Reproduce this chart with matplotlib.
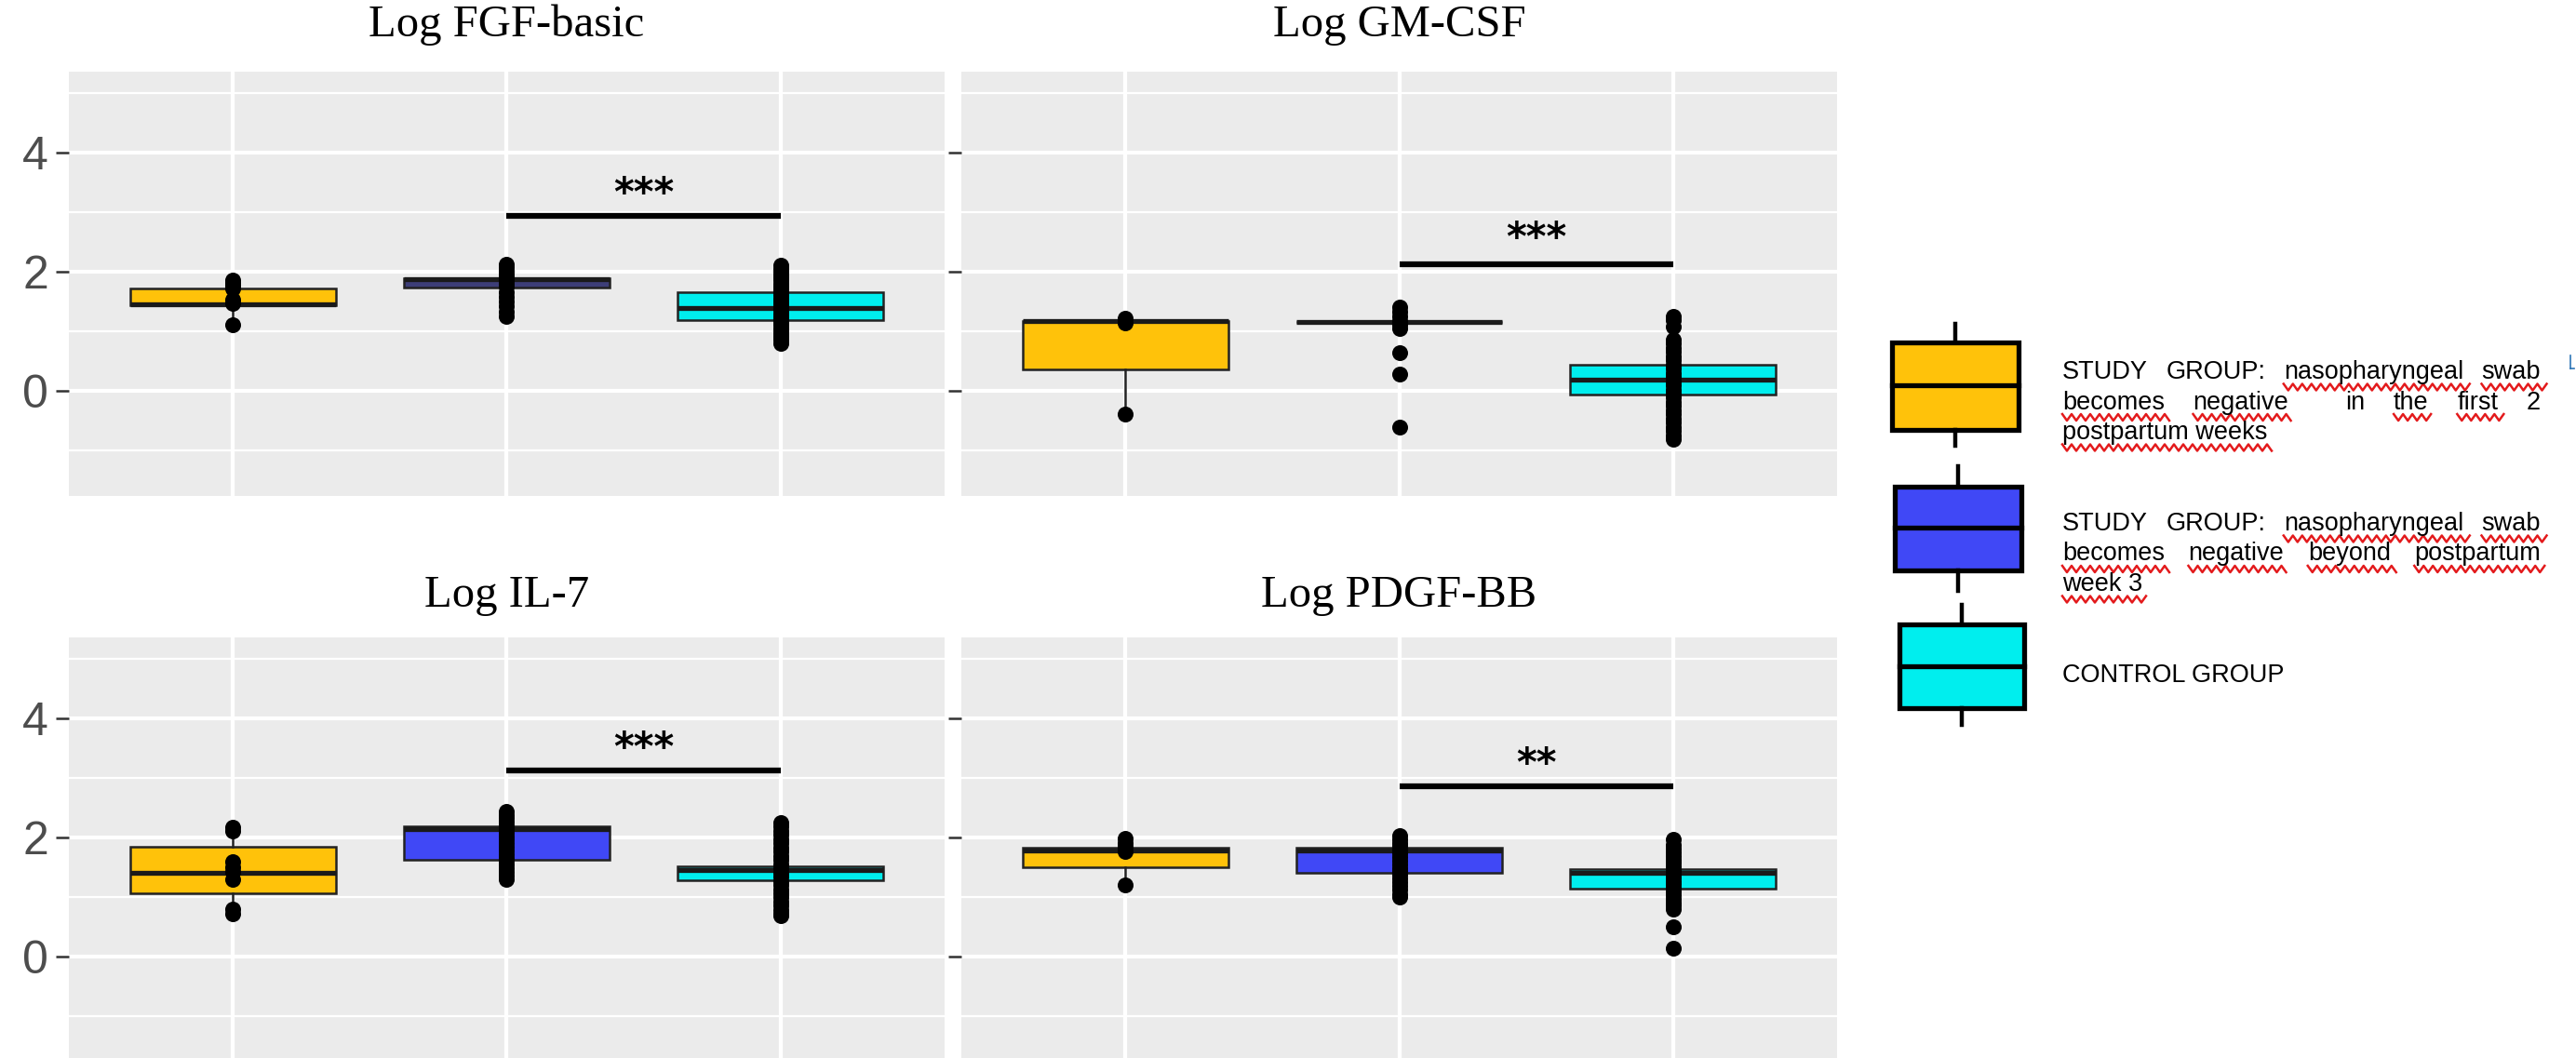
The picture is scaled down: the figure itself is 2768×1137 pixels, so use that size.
import matplotlib
matplotlib.use("Agg")
import numpy as np
import matplotlib.pyplot as plt
from matplotlib.patches import Rectangle

panel_titles = ["Log FGF-basic", "Log GM-CSF", "Log IL-7", "Log PDGF-BB"]
group_colors = ["#FFC20A", "#4048F6", "#00EEEE"]

# box stats per group: (q1, median, q3, whisker low, whisker high)
fgf_boxes = [(1.43, 1.45, 1.71, 1.11, 1.86), (1.74, 1.87, 1.89, 1.50, 2.12), (1.19, 1.39, 1.66, 0.80, 2.10)]
gm_boxes = [(0.36, 1.17, 1.17, -0.39, 1.17), (1.15, 1.15, 1.15, 1.15, 1.15), (-0.06, 0.19, 0.44, -0.82, 1.22)]
il7_boxes = [(1.06, 1.41, 1.84, 0.71, 2.17), (1.63, 2.14, 2.19, 1.29, 2.44), (1.28, 1.45, 1.52, 0.68, 2.25)]
pdgf_boxes = [(1.50, 1.78, 1.82, 1.20, 1.98), (1.41, 1.78, 1.82, 0.99, 2.03), (1.14, 1.40, 1.47, 0.80, 1.97)]

# individual observations drawn on each box
fgf_points = [
    [1.86, 1.81, 1.76, 1.71, 1.53, 1.47, 1.11],
    [2.12, 2.07, 2.02, 1.97, 1.93, 1.89, 1.86, 1.83, 1.79, 1.75, 1.66, 1.58, 1.50, 1.42, 1.33, 1.24],
    [2.10, 2.05, 2.00, 1.95, 1.90, 1.85, 1.80, 1.75, 1.70, 1.65, 1.60, 1.55, 1.50, 1.45, 1.40, 1.35,
     1.30, 1.25, 1.20, 1.15, 1.10, 1.05, 1.00, 0.95, 0.90, 0.85, 0.80],
]
gm_points = [
    [1.22, 1.14, -0.39],
    [1.40, 1.32, 1.24, 1.17, 1.10, 1.05, 0.64, 0.28, -0.61],
    [1.25, 1.18, 1.08, 0.86, 0.79, 0.72, 0.65, 0.58, 0.51, 0.44, 0.37, 0.30, 0.23, 0.16, 0.09, 0.02,
     -0.05, -0.12, -0.19, -0.26, -0.33, -0.40, -0.47, -0.54, -0.61, -0.68, -0.75, -0.82],
]
il7_points = [
    [2.17, 2.10, 1.59, 1.50, 1.42, 1.30, 0.79, 0.71],
    [2.44, 2.38, 2.32, 2.26, 2.20, 2.14, 2.08, 2.02, 1.96, 1.90, 1.84, 1.78, 1.72, 1.66, 1.60, 1.54,
     1.48, 1.42, 1.36, 1.29],
    [2.25, 2.18, 2.11, 2.04, 1.97, 1.90, 1.83, 1.76, 1.69, 1.62, 1.55, 1.48, 1.41, 1.34, 1.27, 1.20,
     1.13, 1.06, 0.99, 0.92, 0.85, 0.78, 0.71, 0.68],
]
pdgf_points = [
    [1.98, 1.91, 1.84, 1.76, 1.20],
    [2.03, 1.97, 1.91, 1.85, 1.79, 1.73, 1.67, 1.61, 1.55, 1.49, 1.43, 1.37, 1.31, 1.25, 1.19, 1.13,
     1.05, 0.99],
    [1.97, 1.87, 1.81, 1.75, 1.69, 1.63, 1.57, 1.51, 1.45, 1.39, 1.33, 1.27, 1.21, 1.15, 1.09, 1.03,
     0.97, 0.91, 0.85, 0.80, 0.49, 0.14],
]

all_boxes = [fgf_boxes, gm_boxes, il7_boxes, pdgf_boxes]
all_points = [fgf_points, gm_points, il7_points, pdgf_points]

sig_bar_y = [2.94, 2.12, 3.13, 2.86]
sig_star_y = [3.30, 2.55, 3.49, 3.22]
sig_labels = ["***", "***", "***", "**"]

legend_labels = [
    ["STUDY GROUP: nasopharyngeal swab", "becomes negative  in the first 2", "postpartum weeks"],
    ["STUDY GROUP: nasopharyngeal swab", "becomes negative beyond postpartum", "week 3"],
    ["CONTROL GROUP"],
]
# which words get the red spell-check underline (line index -> word indices, "all" = whole line)
legend_squiggles = [
    {0: [2, 3], 1: [0, 1, 4, 5], 2: "all"},
    {0: [2, 3], 1: [0, 1, 2, 3], 2: "all"},
    {},
]

serif = "Liberation Serif"
sans = "Liberation Sans"
leg_size = 19.5
W, H = 2768, 1137

fig = plt.figure(figsize=(W / 100, H / 100), dpi=100)

# full-figure axes in pixel units for the hand-made legend
lg = fig.add_axes([0, 0, 1, 1])
lg.set_xlim(0, W)
lg.set_ylim(H, 0)
lg.axis("off")

# panel rectangles in pixels: left, top, width, height
panel_px = [(74, 77), (1033, 77), (74, 685), (1033, 685)]
pw, ph = 941, 456

for i in range(4):
    left, top = panel_px[i]
    ax = fig.add_axes([left / W, 1 - (top + ph) / H, pw / W, ph / H])
    ax.set_facecolor("#EBEBEB")
    for s in ax.spines.values():
        s.set_visible(False)
    ax.set_xlim(0.4, 3.6)
    ax.set_ylim(-1.77, 5.36)
    ax.set_xticks([1, 2, 3])
    ax.set_yticks([0, 2, 4])
    ax.set_yticks([-1, 1, 3, 5], minor=True)
    ax.grid(which="major", color="white", linewidth=3.0)
    ax.grid(which="minor", axis="y", color="white", linewidth=1.6)
    ax.set_axisbelow(True)
    ax.tick_params(axis="x", length=0, labelbottom=False)
    ax.tick_params(axis="y", which="major", length=10, width=1.8, color="#333333",
                   labelsize=36, labelcolor="#4D4D4D", pad=6, labelleft=(i % 2 == 0))
    ax.tick_params(axis="y", which="minor", length=0)
    for lab in ax.get_yticklabels():
        lab.set_family(sans)

    stats = []
    for q1, med, q3, lo, hi in all_boxes[i]:
        stats.append(dict(q1=q1, med=med, q3=q3, whislo=lo, whishi=hi, fliers=[]))
    bp = ax.bxp(stats, positions=[1, 2, 3], widths=0.75, patch_artist=True,
                showfliers=False, showcaps=False,
                boxprops=dict(edgecolor="#222222", linewidth=1.8),
                whiskerprops=dict(color="#222222", linewidth=1.8),
                medianprops=dict(color="#1a1a1a", linewidth=3.8))
    for k, patch in enumerate(bp["boxes"]):
        patch.set_facecolor(group_colors[k])
    if i == 0:
        # very thin box that renders dark in the original
        bp["boxes"][1].set_facecolor("#3d3e78")

    for k, pts in enumerate(all_points[i]):
        ax.scatter([k + 1] * len(pts), pts, s=150, color="black", zorder=4, linewidths=0)

    ax.plot([2, 3], [sig_bar_y[i], sig_bar_y[i]], color="black", linewidth=4.5,
            solid_capstyle="butt", zorder=5)
    ax.text(2.5, sig_star_y[i], sig_labels[i], ha="center", va="center",
            fontsize=30, fontweight="bold", family="DejaVu Sans")

    title_y = 27 if i < 2 else 640
    fig.text((left + pw / 2) / W, 1 - title_y / H, panel_titles[i], ha="center",
             va="center", fontsize=35, family=serif)

# ---- legend ----
renderer = fig.canvas.get_renderer()


def text_width(s):
    if s == "":
        return 0.0
    t = lg.text(0, 0, s, fontsize=leg_size, family=sans)
    w = t.get_window_extent(renderer).width
    t.remove()
    return w


def squiggle(xa, xb, y):
    xs = np.arange(xa, xb + 1, 5.0)
    ys = y + 3.5 * np.where(np.arange(len(xs)) % 2 == 0, -1, 1)
    lg.plot(xs, ys, color="#E31A1C", linewidth=1.8)


key_boxes = [(2033, 368, 2169, 462, 414, 348, 479),
             (2036, 523, 2172, 613, 567, 501, 635),
             (2041, 671, 2175, 761, 716, 650, 779)]
baselines = [[407, 439.5, 472], [570, 602.5, 635], [733]]
x0, x1 = 2216, 2730

for k in range(3):
    xa, ya, xb, yb, ym, wt, wb = key_boxes[k]
    xc = (xa + xb) / 2
    lg.plot([xc, xc], [wt, ya], color="black", linewidth=3.2)
    lg.plot([xc, xc], [yb, wb], color="black", linewidth=3.2)
    lg.add_patch(Rectangle((xa, ya), xb - xa, yb - ya, facecolor=group_colors[k],
                           edgecolor="black", linewidth=3.8))
    lg.plot([xa, xb], [ym, ym], color="black", linewidth=3.8)

    lines = legend_labels[k]
    for j, line in enumerate(lines):
        y = baselines[k][j]
        marks = legend_squiggles[k].get(j)
        if j < len(lines) - 1:
            words = line.split(" ")
            widths = [text_width(w) for w in words]
            gap = (x1 - x0 - sum(widths)) / (len(words) - 1)
            x = x0
            for n, (w, ww) in enumerate(zip(words, widths)):
                if w:
                    lg.text(x, y, w, fontsize=leg_size, family=sans, ha="left", va="baseline")
                if marks and marks != "all" and n in marks:
                    squiggle(x, x + ww + 6, y + 9)
                x += ww + gap
        else:
            lg.text(x0, y, line, fontsize=leg_size, family=sans, ha="left", va="baseline")
            if marks == "all":
                squiggle(x0, x0 + text_width(line) + 4, y + 9)

# small blue cursor mark next to the legend text
lg.plot([2762, 2762], [382, 396], color="#2E75B6", linewidth=1.2)
lg.plot([2762, 2766], [396, 396], color="#2E75B6", linewidth=1.2)

fig.savefig("out.png", dpi=100)
